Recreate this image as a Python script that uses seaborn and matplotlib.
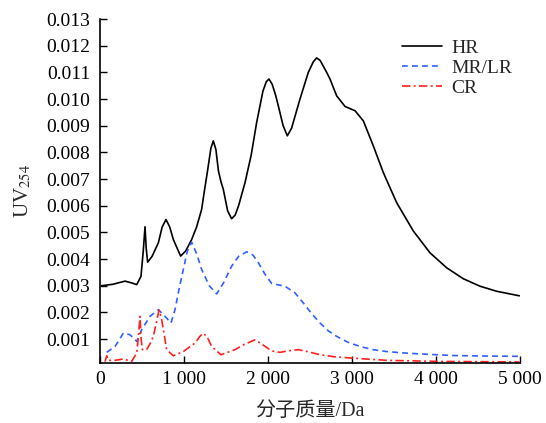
import matplotlib
matplotlib.use("Agg")
import matplotlib.pyplot as plt
import seaborn as sns
import numpy as np
import pandas as pd

# ---- data (values in units of 1e-3) ----
hr_x = [20, 150, 298, 380, 437, 488, 515, 536, 550, 567, 620, 695, 740, 786, 830,
        873, 960, 1020, 1091, 1150, 1210, 1245, 1280, 1320, 1349, 1380, 1410, 1440, 1468, 1520,
        1567, 1610, 1650, 1726, 1800, 1865, 1940, 1980, 2012, 2050, 2090, 2123, 2180, 2230, 2280,
        2381, 2480, 2540, 2579, 2620, 2698, 2738, 2817, 2917, 3036, 3135, 3254, 3373, 3532, 3730,
        3929, 4127, 4325, 4524, 4722, 4992]
hr_y = [3.00, 3.05, 3.17, 3.10, 3.04, 3.35, 4.3, 5.21, 4.4, 3.88, 4.1, 4.61, 5.2, 5.48, 5.2,
        4.73, 4.11, 4.3, 4.73, 5.2, 5.86, 6.6, 7.3, 8.15, 8.43, 8.1, 7.3, 6.9, 6.61, 5.8,
        5.51, 5.65, 6.0, 6.86, 7.9, 9.12, 10.3, 10.65, 10.75, 10.55, 10.15, 9.74, 9.0, 8.62, 8.9,
        10.0, 11.0, 11.4, 11.54, 11.45, 11.0, 10.75, 10.12, 9.72, 9.56, 9.18, 8.24, 7.24, 6.11, 5.05,
        4.23, 3.67, 3.26, 2.98, 2.79, 2.62]

mr_x = [80, 179, 278, 357, 437, 496, 595, 695, 774, 845, 893, 940, 992, 1040, 1091,
        1150, 1210, 1300, 1389, 1470, 1567, 1650, 1746, 1820, 1885, 1960, 2044, 2202, 2321, 2421,
        2520, 2619, 2720, 2817, 2950, 3095, 3250, 3413, 3600, 3810, 4206, 4600, 4992]
mr_y = [0.50, 0.72, 1.22, 1.16, 0.91, 1.35, 1.85, 2.10, 1.85, 1.60, 2.10, 2.85, 3.61, 4.3, 4.63,
        4.2, 3.61, 3.0, 2.69, 3.1, 3.73, 4.1, 4.27, 4.15, 3.86, 3.45, 3.08, 2.98, 2.73, 2.35,
        1.95, 1.60, 1.30, 1.10, 0.88, 0.72, 0.60, 0.53, 0.48, 0.44, 0.38, 0.36, 0.35]

cr_x = [60, 80, 99, 179, 278, 377, 437, 460, 476, 490, 504, 556, 600, 635, 670,
        702, 730, 754, 794, 873, 992, 1131, 1190, 1230, 1280, 1329, 1440, 1607, 1720, 1845,
        1940, 2044, 2143, 2250, 2361, 2480, 2619, 2800, 3016, 3413, 4008, 4992]
cr_y = [0.15, 0.37, 0.20, 0.20, 0.25, 0.16, 0.47, 1.2, 1.85, 1.0, 0.60, 0.60, 0.85, 1.10, 1.6,
        2.08, 1.8, 1.35, 0.60, 0.37, 0.53, 0.85, 1.1, 1.22, 1.05, 0.72, 0.41, 0.60, 0.8, 0.97,
        0.78, 0.55, 0.50, 0.56, 0.60, 0.52, 0.41, 0.33, 0.28, 0.20, 0.16, 0.14]

series_names = ["HR", "MR/LR", "CR"]
x_ticks = [0, 1000, 2000, 3000, 4000, 5000]
x_tick_labels = ["0", "1 000", "2 000", "3 000", "4 000", "5 000"]
y_ticks = [0.001 * i for i in range(1, 14)]
y_tick_labels = ["%.3f" % v for v in y_ticks]

sns.set_style("ticks")
plt.rcParams["font.family"] = ["Liberation Serif", "Noto Sans CJK SC"]
plt.rcParams["mathtext.fontset"] = "stix"

fig = plt.figure(figsize=(5.46, 4.23), dpi=100)
ax = fig.add_axes([100 / 546, 1 - 363 / 423, 420 / 546, 344 / 423])

styles = [("black", "-"), ("#3060ff", (0, (3.5, 2.5))), ("#ff2020", (0, (5, 2, 1.2, 2)))]
for name, xs, ys, (c, ls) in zip(series_names, [hr_x, mr_x, cr_x], [hr_y, mr_y, cr_y], styles):
    df = pd.DataFrame({"x": xs, "y": np.array(ys) * 1e-3})
    sns.lineplot(data=df, x="x", y="y", ax=ax, color=c, linestyle=ls, linewidth=1.2,
                 label=name, sort=True)

ax.set_xlim(0, 5000)
ax.set_ylim(0.0001, 0.013)
ax.set_xticks(x_ticks)
ax.set_xticklabels(x_tick_labels)
ax.set_yticks(y_ticks)
ax.set_yticklabels(y_tick_labels)
ax.tick_params(direction="in", length=5, width=1, labelsize=14, colors="black")
ax.tick_params(axis="y", pad=7)
ax.tick_params(axis="x", pad=6)
for s in ["top", "right"]:
    ax.spines[s].set_visible(False)
for s in ["left", "bottom"]:
    ax.spines[s].set_linewidth(1.2)
    ax.spines[s].set_color("black")

ax.set_xlabel("分子质量/Da", fontsize=14.5, labelpad=10)
ax.set_ylabel("UV$_{254}$", fontsize=15, labelpad=9)

leg = ax.legend(loc="upper left", bbox_to_anchor=(384 / 546, 1 - 22 / 423),
                bbox_transform=fig.transFigure, frameon=False, fontsize=14,
                handlelength=2.1, handletextpad=0.45, labelspacing=0.12)

fig.savefig("out.png", dpi=100)
